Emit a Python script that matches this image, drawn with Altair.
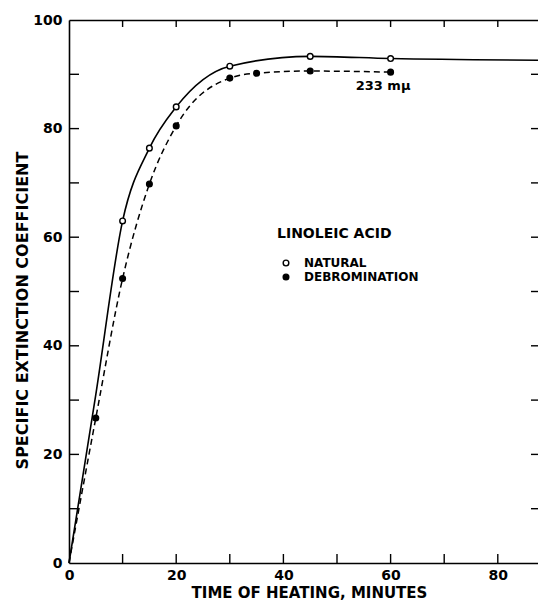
import altair as alt
import pandas as pd

# ---- data ----
natural_t = [10, 15, 20, 30, 45, 60]
natural_v = [63.0, 76.4, 84.0, 91.5, 93.3, 92.9]

debrom_t = [5, 10, 15, 20, 30, 35, 45, 60]
debrom_v = [26.7, 52.4, 69.8, 80.5, 89.3, 90.2, 90.6, 90.4]

# fitted curves drawn through the points
natural_curve_t = [0, 5, 10, 15, 20, 30, 45, 60, 87.5]
natural_curve_v = [0, 31.0, 63.0, 76.4, 84.0, 91.5, 93.3, 92.9, 92.6]
debrom_curve_t = [0, 5, 10, 15, 20, 30, 35, 45, 60]
debrom_curve_v = [0, 26.7, 52.4, 69.8, 80.5, 89.3, 90.2, 90.6, 90.4]

series_names = ["NATURAL", "DEBROMINATION"]
legend_title = "LINOLEIC ACID"

x_label_values = [0, 20, 40, 60, 80]
y_label_values = [0, 20, 40, 60, 80, 100]
x_tick_values = [10, 20, 30, 40, 50, 60, 70, 80]
y_tick_values = [10, 20, 30, 40, 50, 60, 70, 80, 90]

note_t = [58.6]
note_v = [87.8]
note_text = ["233 mμ"]

X_MAX = 87.5
W, H = 469, 543
FONT = "DejaVu Sans"

xs = alt.Scale(domain=[0, X_MAX], nice=False, zero=False)
ys = alt.Scale(domain=[0, 100], nice=False, zero=False)

nat_curve = pd.DataFrame({"t": natural_curve_t, "v": natural_curve_v})
deb_curve = pd.DataFrame({"t": debrom_curve_t, "v": debrom_curve_v})
pts = pd.concat([
    pd.DataFrame({"t": natural_t, "v": natural_v, "s": series_names[0]}),
    pd.DataFrame({"t": debrom_t, "v": debrom_v, "s": series_names[1]}),
])
xt = pd.DataFrame({"t": x_tick_values})
yt = pd.DataFrame({"v": y_tick_values})
note = pd.DataFrame({"t": note_t, "v": note_v, "txt": note_text})

bottom_axis = alt.Axis(
    orient="bottom", values=x_label_values, ticks=False, grid=False,
    domain=True, domainColor="black", domainWidth=1.6,
    labelFont=FONT, labelFontSize=14, labelFontWeight="bold", labelColor="black",
    labelPadding=5, labelFlush=False,
    title="TIME OF HEATING, MINUTES", titleFont=FONT, titleFontSize=15,
    titleFontWeight="bold", titleColor="black", titleX=240, titleY=29,
    titleAlign="center", titleBaseline="middle",
)
left_axis = alt.Axis(
    orient="left", values=y_label_values, ticks=False, grid=False,
    domain=True, domainColor="black", domainWidth=1.6,
    labelFont=FONT, labelFontSize=14, labelFontWeight="bold", labelColor="black",
    labelPadding=7, labelFlush=False,
    title="SPECIFIC EXTINCTION COEFFICIENT", titleFont=FONT, titleFontSize=16,
    titleFontWeight="bold", titleColor="black", titleX=-47, titleY=290,
    titleAngle=270, titleAlign="center", titleBaseline="middle",
)
top_axis = alt.Axis(
    orient="top", labels=False, ticks=False, grid=False, title=None,
    domain=True, domainColor="black", domainWidth=1.6,
)

nat_line = alt.Chart(nat_curve).mark_line(
    interpolate="monotone", color="black", strokeWidth=1.6
).encode(
    x=alt.X("t:Q", scale=xs, axis=bottom_axis),
    y=alt.Y("v:Q", scale=ys, axis=left_axis),
)
deb_line = alt.Chart(deb_curve).mark_line(
    interpolate="monotone", color="black", strokeWidth=1.5, strokeDash=[6, 4]
).encode(
    x=alt.X("t:Q", scale=xs, axis=None),
    y=alt.Y("v:Q", scale=ys, axis=None),
)
points = alt.Chart(pts).mark_point(
    shape="circle", filled=True, stroke="black", strokeWidth=1.4, opacity=1, size=32
).encode(
    x=alt.X("t:Q", scale=xs, axis=None),
    y=alt.Y("v:Q", scale=ys, axis=None),
    fill=alt.Fill(
        "s:N",
        scale=alt.Scale(domain=series_names, range=["white", "black"]),
        legend=alt.Legend(
            orient="none", legendX=208, legendY=207, title=legend_title,
            titleFont=FONT, titleFontSize=14, titleFontWeight="bold", titleColor="black",
            titlePadding=16, labelFont=FONT, labelFontSize=12, labelFontWeight="bold",
            labelColor="black", symbolType="circle", symbolSize=32,
            symbolStrokeColor="black", symbolStrokeWidth=1.4, symbolOffset=3,
            labelOffset=12, rowPadding=2, padding=0,
        ),
    ),
)

top_line = alt.Chart(xt).mark_rule(color="black", strokeWidth=1.4).encode(
    x=alt.X("t:Q", scale=xs, axis=top_axis),
    y=alt.value(0), y2=alt.value(7),
)
bottom_ticks = alt.Chart(xt).mark_rule(color="black", strokeWidth=1.4).encode(
    x=alt.X("t:Q", scale=xs, axis=None),
    y=alt.value(H), y2=alt.value(H - 9),
)
left_ticks = alt.Chart(yt).mark_rule(color="black", strokeWidth=1.4).encode(
    y=alt.Y("v:Q", scale=ys, axis=None),
    x=alt.value(0), x2=alt.value(10),
)
right_ticks = alt.Chart(yt).mark_rule(color="black", strokeWidth=1.4).encode(
    y=alt.Y("v:Q", scale=ys, axis=None),
    x=alt.value(W), x2=alt.value(W - 7),
)
note_text_layer = alt.Chart(note).mark_text(
    font=FONT, fontSize=13, fontWeight="bold", color="black", align="center",
    baseline="middle",
).encode(
    x=alt.X("t:Q", scale=xs, axis=None),
    y=alt.Y("v:Q", scale=ys, axis=None),
    text="txt:N",
)

chart = alt.layer(
    nat_line, deb_line, top_line, bottom_ticks, left_ticks, right_ticks,
    points, note_text_layer,
).resolve_axis(x="independent", y="independent").properties(
    width=W, height=H,
    autosize=alt.AutoSizeParams(type="none"),
    padding={"left": 61, "top": 12, "right": 0, "bottom": 37},
).configure_view(stroke=None).configure(background="white")

chart.save("out.html", embed_options={"renderer": "svg", "actions": False})
